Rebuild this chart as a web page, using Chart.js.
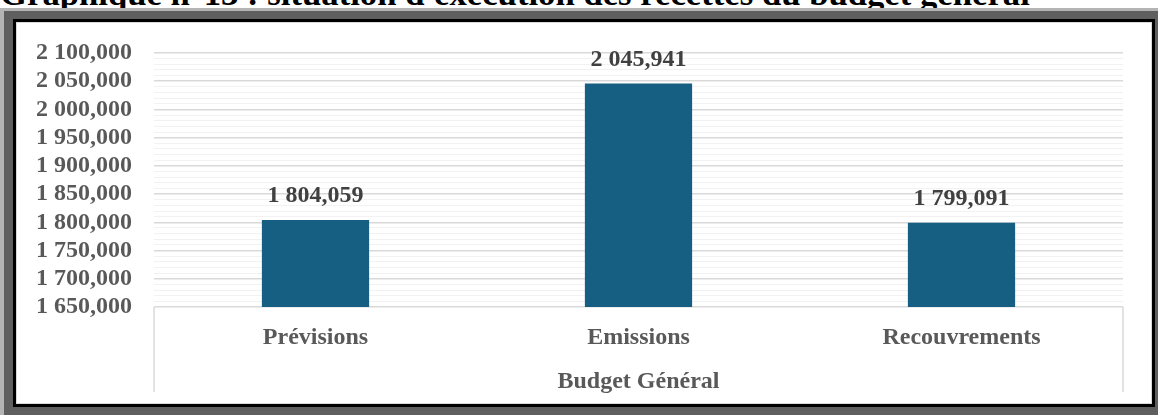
<!DOCTYPE html>
<html>
<head>
<meta charset="utf-8">
<script src="https://cdn.jsdelivr.net/npm/chart.js@4/dist/chart.umd.min.js"></script>
<style>
  body { margin: 0; width: 1158px; height: 415px; overflow: hidden; background: #fff; position: relative; font-family: "Liberation Serif", serif; }
  .title { position: absolute; left: 0; top: -24px; font-size: 34.7px; line-height: 35px; font-weight: bold; color: #000; white-space: nowrap; }
  .f1 { position: absolute; left: 0; top: 8px; width: 1158px; height: 420px; background: #b4b4b4; }
  .f2 { position: absolute; left: 4px; top: 11px; width: 1154px; height: 420px; background: #5f5f5f; }
  .f3 { position: absolute; left: 13px; top: 19px; width: 1142px; height: 388px; background: #000; }
  .f4 { position: absolute; left: 16px; top: 22px; width: 1134px; height: 380px; background: #fff; border: 1px solid #d9d9d9; }
  #wrap { position: absolute; left: 19px; top: 23px; width: 1132px; height: 380px; }
</style>
</head>
<body>
<div class="title">Graphique n°13 : situation d'exécution des recettes du budget général</div>
<div class="f1"></div>
<div class="f2"></div>
<div class="f3"></div>
<div class="f4"></div>
<div id="wrap"><canvas id="budgetChart"></canvas></div>
<script>
const categories = ['Prévisions', 'Emissions', 'Recouvrements'];
const recettes = [1804.059, 2045.941, 1799.091];
const axisTitle = 'Budget Général';
const yMin = 1650;
const yMax = 2100;
const yMajorStep = 50;
const yMinorStep = 10;

function formatFr(v) {
  const parts = v.toFixed(3).split('.');
  const intPart = parts[0].replace(/\B(?=(\d{3})+(?!\d))/g, ' ');
  return intPart + ',' + parts[1];
}

// labels above bars
const valueLabels = {
  id: 'valueLabels',
  afterDatasetsDraw(chart) {
    const ctx = chart.ctx;
    const meta = chart.getDatasetMeta(0);
    ctx.save();
    ctx.font = 'bold 24px "Liberation Serif"';
    ctx.fillStyle = '#404040';
    ctx.textAlign = 'center';
    ctx.textBaseline = 'middle';
    meta.data.forEach((bar, i) => {
      ctx.fillText(formatFr(recettes[i]), bar.x, bar.y - 24);
    });
    ctx.restore();
  }
};

// box lines around the category axis
const axisBox = {
  id: 'axisBox',
  afterDraw(chart) {
    const x = chart.scales.x;
    const ctx = chart.ctx;
    ctx.save();
    ctx.strokeStyle = '#d9d9d9';
    ctx.lineWidth = 1.5;
    ctx.beginPath();
    ctx.moveTo(x.left, x.top);
    ctx.lineTo(x.left, x.bottom);
    ctx.moveTo(x.right, x.top);
    ctx.lineTo(x.right, x.bottom);
    ctx.stroke();
    ctx.restore();
  }
};

const ctx = document.getElementById('budgetChart').getContext('2d');
new Chart(ctx, {
  type: 'bar',
  data: {
    labels: categories,
    datasets: [{
      data: recettes,
      backgroundColor: '#175f82',
      borderWidth: 0,
      barPercentage: 0.332,
      categoryPercentage: 1
    }]
  },
  options: {
    responsive: true,
    maintainAspectRatio: false,
    animation: false,
    layout: { padding: { top: 30, right: 28, bottom: 11, left: 0 } },
    plugins: {
      legend: { display: false },
      tooltip: { enabled: false }
    },
    scales: {
      x: {
        grid: { display: false, drawTicks: false },
        border: { display: false },
        ticks: {
          color: '#595959',
          font: { family: 'Liberation Serif', size: 24, weight: 'bold' },
          padding: 16
        },
        title: {
          display: true,
          text: axisTitle,
          color: '#595959',
          font: { family: 'Liberation Serif', size: 24, weight: 'bold', lineHeight: 1 },
          padding: { top: 0, bottom: -2 }
        },
        afterFit(scale) {
          scale.height = 85;
          scale.paddingLeft = 0;
          scale.paddingRight = 0;
        }
      },
      y: {
        min: yMin,
        max: yMax,
        border: { display: false },
        grid: {
          drawTicks: false,
          color: c => (c.tick && c.tick.value % yMajorStep === 0) ? '#d9d9d9' : '#f2f2f2',
          lineWidth: c => (c.tick && c.tick.value % yMajorStep === 0) ? 1.5 : 1
        },
        ticks: {
          stepSize: yMinorStep,
          autoSkip: false,
          padding: 22,
          color: '#595959',
          font: { family: 'Liberation Serif', size: 24, weight: 'bold' },
          callback: v => (v % yMajorStep === 0) ? formatFr(v) : ''
        },
        afterFit(scale) {
          scale.width = 135;
          scale.paddingTop = 0;
          scale.paddingBottom = 0;
        }
      }
    }
  },
  plugins: [valueLabels, axisBox]
});
</script>
</body>
</html>
